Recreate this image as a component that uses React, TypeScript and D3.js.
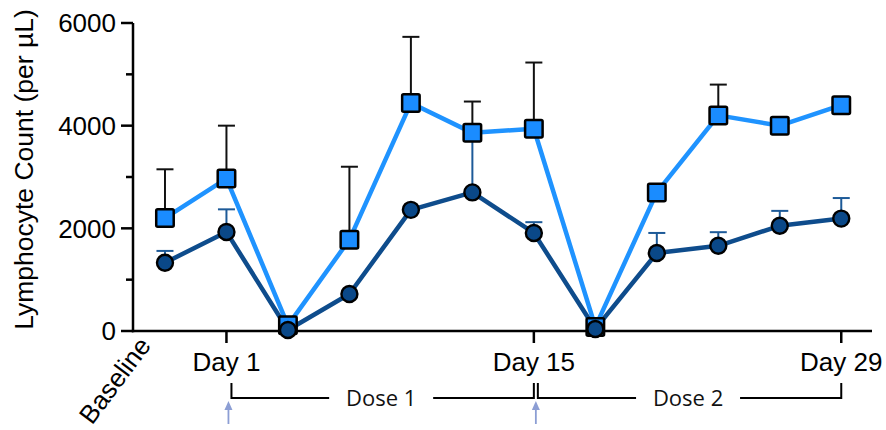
import React from "react";
import * as d3 from "d3";

// Visit index along the x axis (Baseline, Day 1, ..., Day 15, ..., Day 29)
const visits = d3.range(12);
const tickVisits = [1, 6, 11];
const tickLabels = ["Day 1", "Day 15", "Day 29"];
const yTicksMajor = [0, 2000, 4000, 6000];
const yTicksMinor = [1000, 3000, 5000];

// Group shown with squares (light blue): mean and upper error
const squareMean = [2200, 2970, 110, 1780, 4440, 3860, 3940, 80, 2700, 4200, 4000, 4400];
const squareErr = [950, 1030, 0, 1420, 1290, 610, 1290, 0, 0, 600, 0, 0];

// Group shown with circles (dark blue): mean and upper error
const circleMean = [1330, 1930, 20, 720, 2360, 2700, 1910, 40, 1520, 1660, 2050, 2190];
const circleErr = [230, 440, 0, 0, 0, 1150, 210, 0, 390, 265, 290, 400];

// Dosing periods shown as brackets under the axis
const doses = [
  { label: "Dose 1", from: 1, to: 6 },
  { label: "Dose 2", from: 6, to: 11 },
];
const doseArrows = [1, 6];

const W = 886;
const H = 430;
const FONT = "Liberation Sans, Arial, sans-serif";
const FONT_NOTE = "Open Sans, sans-serif";

const LIGHT_LINE = "#1f93ff";
const LIGHT_FILL = "#1a8cff";
const DARK_LINE = "#0e4c8c";
const DARK_FILL = "#0a4888";

export default function App() {
  const x = d3.scaleLinear().domain([-0.52, 11.5]).range([133, 872]);
  const y = d3.scaleLinear().domain([0, 6000]).range([331, 23]);

  const line = d3
    .line<number>()
    .x((_, i) => x(visits[i]))
    .y((d) => y(d));

  const sq = 17.5;
  const cr = 8;
  const capW = 17;
  const bracketY = 398;
  const bracketTop = 383;

  return (
    <svg
      width={W}
      height={H}
      style={{ position: "absolute", left: 0, top: 0, background: "#fff" }}
      fontFamily={FONT}
    >
      {/* y axis */}
      <line x1={x.range()[0]} x2={x.range()[0]} y1={y(0) + 1.2} y2={y(6000)} stroke="#000" strokeWidth={2.5} />
      {yTicksMajor.map((t) => (
        <g key={"ym" + t}>
          <line x1={121} x2={x.range()[0]} y1={y(t)} y2={y(t)} stroke="#000" strokeWidth={2.5} />
          <text x={116} y={y(t)} dy="0.36em" textAnchor="end" fontSize={26} fill="#000">
            {t}
          </text>
        </g>
      ))}
      {yTicksMinor.map((t) => (
        <line key={"yn" + t} x1={126} x2={x.range()[0]} y1={y(t)} y2={y(t)} stroke="#000" strokeWidth={2.5} />
      ))}
      <text
        transform={`translate(33,${(y(0) + 8) / 2}) rotate(-90)`}
        textAnchor="middle"
        fontSize={26.5}
        fill="#000"
      >
        Lymphocyte Count (per µL)
      </text>

      {/* x axis */}
      <line x1={x.range()[0] - 1.2} x2={x.range()[1]} y1={y(0)} y2={y(0)} stroke="#000" strokeWidth={2.5} />
      {tickVisits.map((v, i) => (
        <g key={"xt" + v}>
          <line x1={x(v)} x2={x(v)} y1={y(0)} y2={y(0) + 12} stroke="#000" strokeWidth={2.5} />
          <text x={x(v)} y={371} textAnchor="middle" fontSize={26} fill="#000">
            {tickLabels[i]}
          </text>
        </g>
      ))}
      <text
        transform={`translate(${x(0) - 13},${y(0) + 15}) rotate(-53)`}
        textAnchor="end"
        fontSize={26}
        fill="#000"
      >
        Baseline
      </text>

      {/* dose brackets */}
      {doses.map((d, i) => {
        const x0 = x(d.from) + (i === 0 ? 5 : 4);
        const x1 = x(d.to);
        const mid = (x0 + x1) / 2 - 1.5;
        const gap = 52;
        return (
          <g key={d.label} stroke="#000" strokeWidth={2} fill="none">
            <path d={`M${x0},${bracketTop}V${bracketY}H${mid - gap}`} />
            <path d={`M${mid + gap},${bracketY}H${x1}V${bracketTop}`} />
            <text
              x={mid}
              y={bracketY}
              dy="0.36em"
              textAnchor="middle"
              fontSize={22}
              fontFamily={FONT_NOTE}
              fill="#111"
              stroke="none"
            >
              {d.label}
            </text>
          </g>
        );
      })}
      {doseArrows.map((v) => {
        const ax = x(v) + 2;
        return (
          <g key={"arr" + v} stroke="#8c9ed4" fill="#8c9ed4">
            <line x1={ax} x2={ax} y1={407} y2={424} strokeWidth={1.8} />
            <path d={`M${ax - 4},${410}L${ax},${401}L${ax + 4},${410}Z`} stroke="none" />
          </g>
        );
      })}

      {/* error bars */}
      {squareMean.map((m, i) =>
        squareErr[i] > 0 ? (
          <g key={"se" + i} stroke="#111" strokeWidth={2}>
            <line x1={x(visits[i])} x2={x(visits[i])} y1={y(m)} y2={y(m + squareErr[i])} />
            <line
              x1={x(visits[i]) - capW / 2}
              x2={x(visits[i]) + capW / 2}
              y1={y(m + squareErr[i])}
              y2={y(m + squareErr[i])}
            />
          </g>
        ) : null
      )}
      {circleMean.map((m, i) =>
        circleErr[i] > 0 ? (
          <g key={"ce" + i} stroke="#1d5a98" strokeWidth={2}>
            <line x1={x(visits[i])} x2={x(visits[i])} y1={y(m)} y2={y(m + circleErr[i])} />
            <line
              x1={x(visits[i]) - capW / 2}
              x2={x(visits[i]) + capW / 2}
              y1={y(m + circleErr[i])}
              y2={y(m + circleErr[i])}
            />
          </g>
        ) : null
      )}

      {/* series lines */}
      <path d={line(squareMean) || ""} fill="none" stroke={LIGHT_LINE} strokeWidth={4.5} strokeLinejoin="round" />
      <path d={line(circleMean) || ""} fill="none" stroke={DARK_LINE} strokeWidth={4.5} strokeLinejoin="round" />

      {/* markers */}
      {squareMean.map((m, i) => (
        <rect
          key={"sq" + i}
          x={x(visits[i]) - sq / 2}
          y={y(m) - sq / 2}
          width={sq}
          height={sq}
          rx={1.5}
          fill={LIGHT_FILL}
          stroke="#000"
          strokeWidth={2.5}
        />
      ))}
      {circleMean.map((m, i) => (
        <circle
          key={"ci" + i}
          cx={x(visits[i])}
          cy={y(m)}
          r={cr}
          fill={DARK_FILL}
          stroke="#000"
          strokeWidth={2.4}
        />
      ))}
    </svg>
  );
}
